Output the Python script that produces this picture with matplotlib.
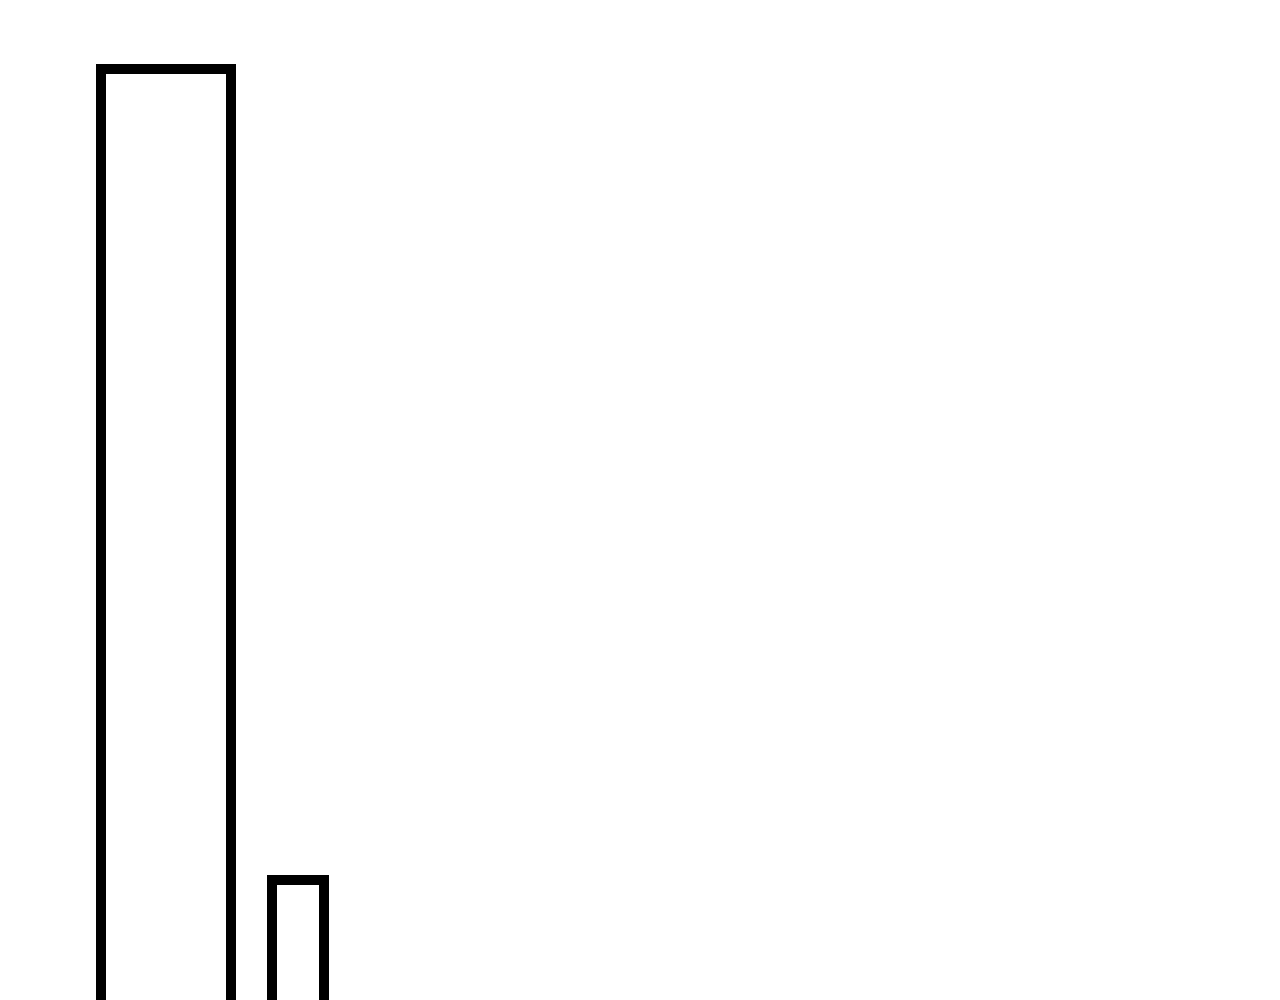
import matplotlib
matplotlib.use("Agg")
import matplotlib.pyplot as plt

# bar data (left edge, width, height)
lefts = [101, 272]
widths = [130, 52]
heights = [1031, 220]

fig = plt.figure(figsize=(12.8, 10), dpi=100)
ax = fig.add_axes([0, 0, 1, 1])
ax.bar(lefts, heights, width=widths, align='edge', bottom=0,
       facecolor='none', edgecolor='black', linewidth=7.2,
       joinstyle='miter')
ax.set_xlim(0, 1280)
ax.set_ylim(100, 1100)
ax.axis('off')
fig.savefig('out.png', dpi=100)
